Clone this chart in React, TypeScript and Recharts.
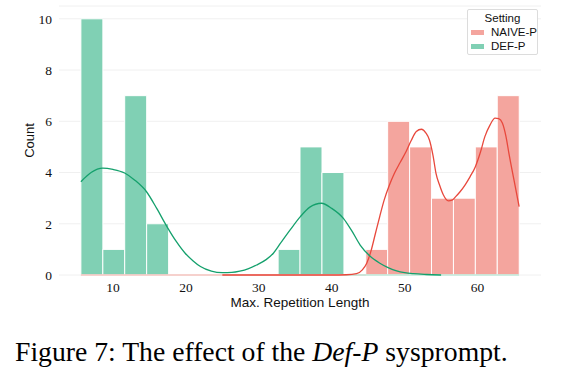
import {
  ComposedChart,
  Bar,
  Line,
  XAxis,
  YAxis,
  CartesianGrid,
  ReferenceLine,
} from 'recharts';

// histogram bins (common bins for both settings)
const binCenters = [
  7.1, 10.11, 13.11, 16.12, 19.12, 22.13, 25.13, 28.14, 31.14, 34.15, 37.15,
  40.16, 43.16, 46.17, 49.17, 52.18, 55.18, 58.19, 61.19, 64.2,
];
const defCounts = [10, 1, 7, 2, 0, 0, 0, 0, 0, 1, 5, 4, 0, 0, 0, 0, 0, 0, 0, 0];
const naiveCounts = [0, 0, 0, 0, 0, 0, 0, 0, 0, 0, 0, 0, 0, 1, 6, 5, 3, 3, 5, 7];

// outer edges of the empty (zero-height) bars
const naiveZeroSpan = [5.6, 44.67];
const defZeroSpan = [41.6, 65.7];

// kde curves
const defKdeX = [
  5.6, 7, 8.6, 10, 11.6, 13, 14.6, 16, 17.4, 18.7, 19.9, 21, 22, 23.5, 25, 26.3,
  27.4, 28.6, 29.7, 31, 32, 33, 34.3, 35.7, 37, 38.6, 40, 41.6, 42.8, 43.9, 45.2,
  46.6, 47.8, 48.9, 50, 51.2, 53, 55,
];
const defKdeY = [
  3.64, 4.0, 4.17, 4.12, 3.98, 3.7, 3.25, 2.6, 1.89, 1.3, 0.85, 0.55, 0.33, 0.15,
  0.09, 0.1, 0.15, 0.25, 0.39, 0.6, 0.85, 1.25, 1.76, 2.28, 2.65, 2.8, 2.6, 2.21,
  1.7, 1.17, 0.75, 0.46, 0.28, 0.16, 0.09, 0.05, 0.02, 0.0,
];
const naiveKdeX = [
  25, 30, 35, 40, 42, 43.4, 44.2, 44.8, 45.4, 46, 46.6, 47.2, 47.9, 48.6, 49.4,
  50.2, 50.9, 51.6, 52.3, 52.9, 53.4, 53.9, 54.3, 54.8, 55.3, 56, 56.5, 57, 57.6,
  58.3, 59, 59.7, 60.4, 61, 61.7, 62.4, 62.9, 63.4, 63.9, 64.3, 65, 65.7,
];
const naiveKdeY = [
  0, 0, 0, 0, 0.01, 0.05, 0.2, 0.46, 0.95, 1.63, 2.3, 2.93, 3.5, 3.97, 4.4, 4.82,
  5.25, 5.6, 5.69, 5.55, 5.27, 4.65, 3.97, 3.5, 3.13, 2.89, 2.92, 3.06, 3.25,
  3.52, 3.85, 4.23, 4.8, 5.4, 5.85, 6.12, 6.1, 5.93, 5.4, 4.75, 3.7, 2.67,
];

const yTicks = [0, 2, 4, 6, 8, 10];
const xTicks = [10, 20, 30, 40, 50, 60];

const legendItems = [
  { name: 'NAIVE-P', color: '#f4a59e' },
  { name: 'DEF-P', color: '#80d0b4' },
];

const binData = binCenters.map((x, i) => ({
  x,
  def: defCounts[i],
  naive: naiveCounts[i],
}));
const defKde = defKdeX.map((x, i) => ({ x, y: defKdeY[i] }));
const naiveKde = naiveKdeX.map((x, i) => ({ x, y: naiveKdeY[i] }));

const sans = '"Liberation Sans", Arial, sans-serif';
const serif = '"Liberation Serif", "Times New Roman", serif';

const CountLabel = (props: any) => {
  const vb = props.viewBox || { x: 0, y: 0, width: 0, height: 0 };
  const cx = vb.x + 29;
  const cy = vb.y + vb.height / 2;
  return (
    <text
      x={cx}
      y={cy}
      transform={`rotate(-90 ${cx} ${cy})`}
      textAnchor="middle"
      dominantBaseline="central"
      fontSize={13}
      fontFamily={sans}
      fill="#111"
    >
      Count
    </text>
  );
};

const LegendBox = () => (
  <div
    style={{
      position: 'absolute',
      left: 467,
      top: 9,
      width: 71,
      height: 46,
      border: '1px solid #dcdcdc',
      borderRadius: 2,
      background: '#fff',
      fontFamily: sans,
      fontSize: 11.5,
      color: '#111',
      boxSizing: 'border-box',
      whiteSpace: 'nowrap',
    }}
  >
    <div style={{ textAlign: 'center', lineHeight: '14px', marginTop: 1 }}>
      Setting
    </div>
    {legendItems.map((it) => (
      <div
        key={it.name}
        style={{ display: 'flex', alignItems: 'center', height: 14 }}
      >
        <span
          style={{
            display: 'inline-block',
            width: 13,
            height: 5,
            background: it.color,
            marginLeft: 3,
            marginRight: 7,
          }}
        />
        <span>{it.name}</span>
      </div>
    ))}
  </div>
);

export default function App() {
  return (
    <div
      style={{
        position: 'absolute',
        left: 0,
        top: 0,
        width: 568,
        height: 384,
        background: '#fff',
      }}
    >
      <ComposedChart
        width={568}
        height={320}
        data={binData}
        margin={{ top: 6, right: 27, left: 0, bottom: 0 }}
        barCategoryGap={0}
        barGap={0}
      >
        <CartesianGrid vertical={false} stroke="#f0f0f0" />
        <XAxis
          dataKey="x"
          type="number"
          domain={[2.6, 68.7]}
          ticks={xTicks}
          axisLine={false}
          tickLine={false}
          tickSize={5}
          tickMargin={2}
          height={45}
          tick={{ fontSize: 13.5, fill: '#111', fontFamily: serif }}
          label={{
            value: 'Max. Repetition Length',
            position: 'insideTop',
            offset: 22,
            style: { fontSize: 13.5, fill: '#111', fontFamily: sans },
          }}
        />
        <XAxis
          xAxisId="kde"
          dataKey="x"
          type="number"
          domain={[2.6, 68.7]}
          hide
        />
        <YAxis
          width={59}
          domain={[0, 10.5]}
          ticks={yTicks}
          axisLine={false}
          tickLine={false}
          tickSize={5}
          tickMargin={2}
          tick={{ fontSize: 13.5, fill: '#111', fontFamily: serif }}
          label={<CountLabel />}
        />
        <ReferenceLine
          segment={[
            { x: naiveZeroSpan[0], y: 0 },
            { x: naiveZeroSpan[1], y: 0 },
          ]}
          stroke="#f6c4bf"
          strokeWidth={1.5}
        />
        <ReferenceLine
          segment={[
            { x: defZeroSpan[0], y: 0 },
            { x: defZeroSpan[1], y: 0 },
          ]}
          stroke="#bfe8d9"
          strokeWidth={1.5}
        />
        <Bar
          dataKey="def"
          stackId="h"
          fill="#80d0b4"
          stroke="#fff"
          strokeWidth={1}
          isAnimationActive={false}
        />
        <Bar
          dataKey="naive"
          stackId="h"
          fill="#f4a59e"
          stroke="#fff"
          strokeWidth={1}
          isAnimationActive={false}
        />
        <Line
          xAxisId="kde"
          data={naiveKde}
          dataKey="y"
          type="monotone"
          stroke="#e8483c"
          strokeWidth={1.3}
          dot={false}
          isAnimationActive={false}
        />
        <Line
          xAxisId="kde"
          data={defKde}
          dataKey="y"
          type="monotone"
          stroke="#14a06c"
          strokeWidth={1.3}
          dot={false}
          isAnimationActive={false}
        />
      </ComposedChart>
      <LegendBox />
      <div
        style={{
          position: 'absolute',
          left: 15,
          top: 338,
          fontFamily: serif,
          fontSize: 27.7,
          lineHeight: '27px',
          color: '#000',
          whiteSpace: 'nowrap',
        }}
      >
        Figure 7: The effect of the <i>Def-P</i> sysprompt.
      </div>
    </div>
  );
}
